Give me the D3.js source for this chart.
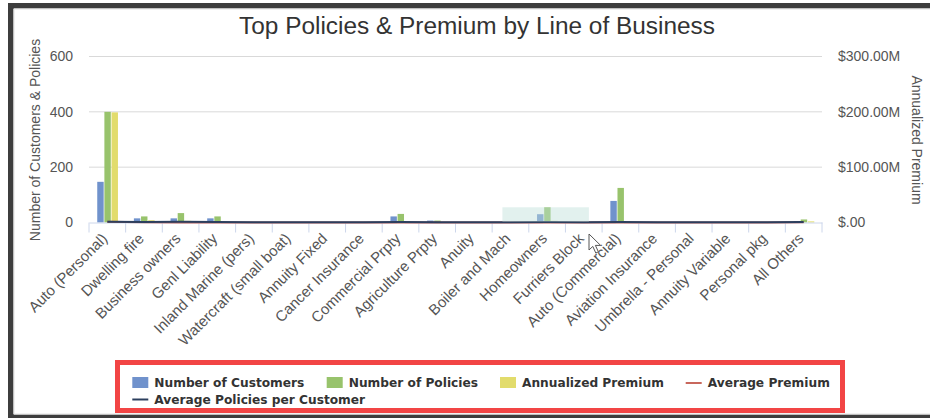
<!DOCTYPE html>
<html>
<head>
<meta charset="utf-8">
<script src="https://cdn.jsdelivr.net/npm/d3@7"></script>
<style>
  html, body { margin: 0; padding: 0; background: #fff; }
  svg { display: block; }
</style>
</head>
<body>
<svg id="chart" width="930" height="418"></svg>
<script>
// ---- data ----
const categories = ["Auto (Personal)","Dwelling fire","Business owners","Genl Liability","Inland Marine (pers)","Watercraft (small boat)","Annuity Fixed","Cancer Insurance","Commercial Prpty","Agriculture Prpty","Anuity","Boiler and Mach","Homeowners","Furriers Block","Auto (Commercial)","Aviation Insurance","Umbrella - Personal","Annuity Variable","Personal pkg","All Others"];
const customers = [147,15,15,15,1,1,1,1,22,7,1,1,30,1,78,2,1,1,1,5];
const policies  = [400,22,34,22,1,1,1,1,31,7,1,1,55,1,125,2,1,1,1,11];
const premiumM  = [199,4,3,1.5,0.2,0.2,0.1,0.1,2,1,0.1,0.1,3,0.1,2,0.4,0.2,0.1,0.1,2];
const avgPremiumM = [1.35,0.27,0.2,0.1,0.2,0.2,0.1,0.1,0.09,0.14,0.1,0.1,0.1,0.1,0.03,0.2,0.2,0.1,0.1,0.4];
const avgPolicies = [2.72,1.47,2.27,1.47,1,1,1,1,1.41,1,1,1,1.83,1,1.6,1,1,1,1,2.2];
const leftTicks = [0,200,400,600];
const rightTicks = [0,100,200,300];
const rightTickLabels = ["$.00","$100.00M","$200.00M","$300.00M"];
const selectionIdx = [11.28, 13.64];   // zoom-selection box (category index units)
const selectionVal = [3, 55];          // in left-axis units
const title = "Top Policies & Premium by Line of Business";
const leftTitle = "Number of Customers & Policies";
const rightTitle = "Annualized Premium";
const legendRow1 = [
  {name:"Number of Customers", type:"bar", color:"#7092cc"},
  {name:"Number of Policies", type:"bar", color:"#98c36c"},
  {name:"Annualized Premium", type:"bar", color:"#e2dc6c"},
  {name:"Average Premium", type:"line", color:"#c8675c"}
];
const legendRow2 = [
  {name:"Average Policies per Customer", type:"line", color:"#2c3f5e"}
];

// ---- layout ----
const W = 930, H = 418;
const plot = {left: 89, right: 822, top: 56.5, bottom: 222.5};
const svg = d3.select("#chart");
const SANS = "'Liberation Sans', Arial, sans-serif";
const LEG = "'DejaVu Sans', Verdana, sans-serif";

// frame
svg.append("rect").attr("x",0).attr("y",0).attr("width",W).attr("height",H).attr("fill","#fff");
svg.append("rect").attr("x",8).attr("y",3).attr("width",W-8).attr("height",5.5).attr("fill","#3d3d3d");
svg.append("rect").attr("x",8).attr("y",3).attr("width",5.5).attr("height",H-3).attr("fill","#3d3d3d");
svg.append("rect").attr("x",8).attr("y",414.5).attr("width",W-8).attr("height",3.5).attr("fill","#3d3d3d");
svg.append("line").attr("x1",14).attr("x2",W).attr("y1",9).attr("y2",9).attr("stroke","#e2e2e2");
svg.append("line").attr("x1",14).attr("x2",14).attr("y1",9).attr("y2",414).attr("stroke","#e2e2e2");
svg.append("line").attr("x1",14).attr("x2",W).attr("y1",414).attr("y2",414).attr("stroke","#e2e2e2");

// scales
const x = d3.scaleBand().domain(categories).range([plot.left, plot.right]).paddingInner(0).paddingOuter(0);
const bw = x.bandwidth();
const xs = d3.scaleBand().domain(["c","p","a"]).range([bw*0.225, bw*0.79]).paddingInner(0.1);
const yL = d3.scaleLinear().domain([0,600]).range([plot.bottom, plot.top]);
const yR = d3.scaleLinear().domain([0,300]).range([plot.bottom, plot.top]);
const idx = d3.scaleLinear().domain([0, categories.length]).range([plot.left, plot.right]);

// title
svg.append("text").attr("x",477).attr("y",34).attr("text-anchor","middle")
  .attr("font-family",SANS).attr("font-size",24.4).attr("fill","#333").text(title);

// gridlines
svg.append("g").selectAll("line").data(leftTicks.filter(d=>d>0)).join("line")
  .attr("x1",plot.left).attr("x2",plot.right)
  .attr("y1",d=>yL(d)).attr("y2",d=>yL(d))
  .attr("stroke","#d9d9d9").attr("stroke-width",1);

// left axis
const gL = svg.append("g").attr("transform",`translate(${plot.left},0)`)
  .call(d3.axisLeft(yL).tickValues(leftTicks).tickSize(0).tickPadding(16));
gL.select(".domain").remove();
gL.selectAll("text").attr("font-family",SANS).attr("font-size",14).attr("fill","#555");

// right axis
const gR = svg.append("g").attr("transform",`translate(${plot.right},0)`)
  .call(d3.axisRight(yR).tickValues(rightTicks).tickSize(0).tickPadding(16)
    .tickFormat((d,i)=>rightTickLabels[i]));
gR.select(".domain").remove();
gR.selectAll("text").attr("font-family",SANS).attr("font-size",14).attr("fill","#555");

// axis titles
svg.append("text").attr("transform","translate(40,140) rotate(-90)").attr("text-anchor","middle")
  .attr("font-family",SANS).attr("font-size",14).attr("fill","#555").text(leftTitle);
svg.append("text").attr("transform","translate(912,140) rotate(90)").attr("text-anchor","middle")
  .attr("font-family",SANS).attr("font-size",14).attr("fill","#555").text(rightTitle);

// bars
const gB = svg.append("g");
categories.forEach((c,i)=>{
  const items = [
    {k:"c", v:yL(customers[i]), color:legendRow1[0].color},
    {k:"p", v:yL(policies[i]), color:legendRow1[1].color},
    {k:"a", v:yR(premiumM[i]), color:legendRow1[2].color}
  ];
  gB.selectAll(null).data(items).join("rect")
    .attr("x",d=>x(c)+xs(d.k)).attr("width",xs.bandwidth())
    .attr("y",d=>d.v).attr("height",d=>plot.bottom-d.v)
    .attr("fill",d=>d.color);
});

// x axis (line + boundary ticks + labels)
const gX = svg.append("g").attr("transform",`translate(0,${plot.bottom})`)
  .call(d3.axisBottom(x).tickSize(0).tickPadding(0));
gX.select(".domain").attr("stroke","#ccd6eb");
gX.selectAll(".tick text")
  .attr("font-family",SANS).attr("font-size",15).attr("fill","#555")
  .attr("text-anchor","end").attr("x",0).attr("y",0).attr("dy",0)
  .attr("transform","translate(1,17) rotate(-45)");
gX.selectAll("line.bnd").data(d3.range(categories.length+1)).join("line")
  .attr("class","bnd")
  .attr("x1",d=>idx(d)).attr("x2",d=>idx(d)).attr("y1",0).attr("y2",10)
  .attr("stroke","#ccd6eb");

// lines
const lineR = d3.line().x((d,i)=>x(categories[i])+bw/2).y(d=>yR(d));
const lineL = d3.line().x((d,i)=>x(categories[i])+bw/2).y(d=>yL(d));
svg.append("path").attr("d",lineR(avgPremiumM)).attr("fill","none")
  .attr("stroke",legendRow1[3].color).attr("stroke-width",2);
svg.append("path").attr("d",lineL(avgPolicies)).attr("fill","none")
  .attr("stroke",legendRow2[0].color).attr("stroke-width",2);

// selection overlay
svg.append("rect")
  .attr("x",idx(selectionIdx[0])).attr("width",idx(selectionIdx[1])-idx(selectionIdx[0]))
  .attr("y",yL(selectionVal[1])).attr("height",yL(selectionVal[0])-yL(selectionVal[1]))
  .attr("fill","#bfe0da").attr("fill-opacity",0.45);

// cursor
const cx = 589, cy = 234;
svg.append("path")
  .attr("d",`M${cx},${cy} l0,16 l3.8,-3.6 l3,6.6 l2.6,-1.2 l-3,-6.4 l5.2,0 Z`)
  .attr("fill","#fff").attr("stroke","#555").attr("stroke-width",1);

// legend
svg.append("rect").attr("x",117.5).attr("y",362.5).attr("width",725).attr("height",48)
  .attr("fill","none").attr("stroke","#f24545").attr("stroke-width",5);
const leg1X = [132.3, 326.7, 500, 685.7];
function drawLegend(items, xs0, baseY){
  items.forEach((it,i)=>{
    const g = svg.append("g").attr("transform",`translate(${xs0[i]},${baseY})`);
    if (it.type==="bar") g.append("rect").attr("x",0).attr("y",-10).attr("width",16).attr("height",11).attr("fill",it.color);
    else g.append("line").attr("x1",0).attr("x2",16).attr("y1",-4).attr("y2",-4).attr("stroke",it.color).attr("stroke-width",2);
    g.append("text").attr("x",22).attr("y",0).attr("font-family",LEG).attr("font-weight","bold")
      .attr("font-size",12.2).attr("fill","#333").text(it.name);
  });
}
drawLegend(legendRow1, leg1X, 387);
drawLegend(legendRow2, [132.3], 403.5);
</script>
</body>
</html>
